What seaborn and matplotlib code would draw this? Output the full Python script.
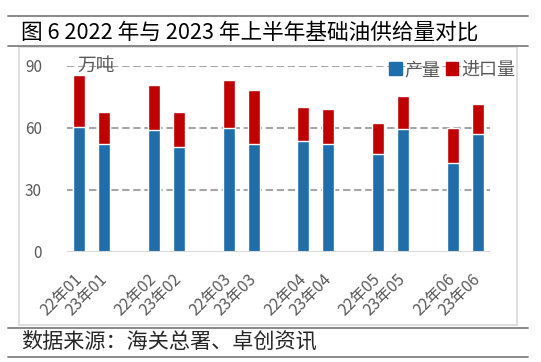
import numpy as np
import pandas as pd
import matplotlib
matplotlib.use("Agg")
import matplotlib.pyplot as plt
from matplotlib.patches import Patch, Rectangle
from matplotlib.lines import Line2D
import seaborn as sns

# ─── DATA ─────────────────────────────────────────────────
months     = ["22年01", "23年01", "22年02", "23年02", "22年03", "23年03",
              "22年04", "23年04", "22年05", "23年05", "22年06", "23年06"]
production = [60.6, 52.2, 59.0, 50.6, 60.1, 52.2, 53.5, 52.2, 47.3, 59.4, 43.2, 57.2]
imports    = [25.0, 15.5, 21.6, 17.1, 22.8, 26.0, 16.5, 16.8, 14.8, 15.9, 16.5, 14.5]
y_ticks    = [0, 30, 60, 90]

BLUE = "#1F6EAA"
RED  = "#C00000"
GREY = "#595959"

df = pd.DataFrame({"月份": months, "产量": production, "进口量": imports})
df["总量"] = df["产量"] + df["进口量"]

# blank slot between each pair of months
order = []
for i in range(0, len(months), 2):
    order += months[i:i + 2]
    if i + 2 < len(months):
        order.append(" " * (i // 2 + 1))

# ─── STYLE ────────────────────────────────────────────────
sns.set_style("white")
plt.rcParams["font.family"] = ["Noto Sans CJK SC", "DejaVu Sans"]

W, H = 541, 362
fig = plt.figure(figsize=(W / 100, H / 100), dpi=100)
ax = fig.add_axes([67 / W, 1 - 252 / H, (490 - 67) / W, (252 - 65.7) / H])

# stacked bars: total (red) first, production (blue) on top
sns.barplot(data=df, x="月份", y="总量", order=order, color=RED, width=0.48,
            saturation=1, errorbar=None, ax=ax, zorder=3)
sns.barplot(data=df, x="月份", y="产量", order=order, color=BLUE, width=0.48,
            saturation=1, errorbar=None, ax=ax, zorder=3)

ax.set_ylim(0, 90)
ax.set_xlim(-0.5, len(order) - 0.5)
ax.set_yticks(y_ticks)
ax.set_xlabel("")
ax.set_ylabel("")
for s in ax.spines.values():
    s.set_visible(False)

for v in y_ticks[1:]:
    ax.axhline(v, color="#A6A6A6", lw=1.5, ls=(0, (3.5, 1.8)), zorder=1)
ax.axhline(0, color="#D9D9D9", lw=1.5, zorder=4)

ax.tick_params(axis="y", length=0, pad=18, labelsize=11, labelcolor=GREY)
ax.tick_params(axis="x", length=0, pad=18, labelsize=11.5, labelcolor=GREY)
for lab in ax.get_xticklabels():
    lab.set_rotation(45)
    lab.set_ha("right")
    lab.set_va("center")
    lab.set_rotation_mode("anchor")

handles = [Patch(color=BLUE), Patch(color=RED)]
ax.legend(handles, ["产量", "进口量"], loc="upper right",
          bbox_to_anchor=(515 / W, 1 - 61 / H), bbox_transform=fig.transFigure,
          frameon=False, ncol=2, fontsize=13, labelcolor=GREY,
          handlelength=0.7, handleheight=0.7, handletextpad=0.15,
          columnspacing=0.3, borderpad=0, borderaxespad=0)

fig.text(77 / W, 1 - 65 / H, "万吨", fontsize=13.5, color=GREY, va="center")

# ─── FRAME, TITLE, SOURCE ─────────────────────────────────
fig.add_artist(Rectangle((19 / W, 1 - 324.5 / H), (517 - 19) / W, (324.5 - 46.5) / H,
                         transform=fig.transFigure, fill=False,
                         edgecolor="#D9D9D9", lw=1.2))
for y in [16.2, 45.5, 328, 357]:
    fig.add_artist(Line2D([7.6 / W, 528 / W], [1 - y / H, 1 - y / H],
                          transform=fig.transFigure, color="#808080", lw=1.3))

fig.text(21 / W, 1 - 32.8 / H, "图 6 2022 年与 2023 年上半年基础油供给量对比",
         fontsize=15.6, color="black", va="center")
fig.text(20.7 / W, 1 - 341.8 / H, "数据来源：海关总署、卓创资讯",
         fontsize=15.2, color="#262626", va="center")

fig.savefig("out.png", dpi=100)
